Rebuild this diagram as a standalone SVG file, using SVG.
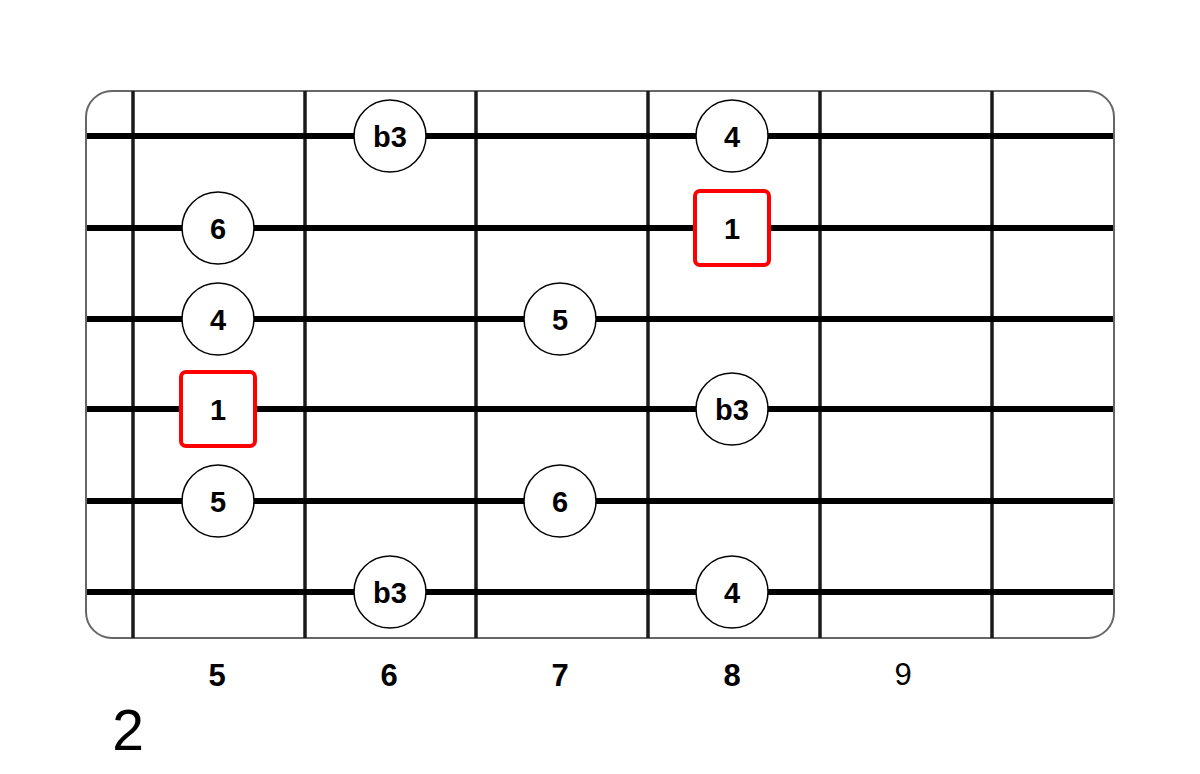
<svg xmlns="http://www.w3.org/2000/svg" width="1200" height="774" viewBox="0 0 1200 774">
<style>
.fret{stroke:#1a1a1a;stroke-width:3.5}
.str{stroke:#000;stroke-width:6}
.note{fill:#fff;stroke:#000;stroke-width:1.5}
.root{fill:#fff;stroke:#f00;stroke-width:4}
.lbl{font-family:"Liberation Sans",Arial,sans-serif;font-weight:bold;font-size:29px;text-anchor:middle;fill:#000}
.fl{font-family:"Liberation Sans",Arial,sans-serif;font-weight:bold;font-size:31px;text-anchor:middle;fill:#000}
.num{font-family:"Liberation Sans",Arial,sans-serif;font-size:31px;text-anchor:middle;fill:#000}
</style>
<rect width="1200" height="774" fill="#fff"/>
<g id="board">
<rect x="86" y="91" width="1028" height="547" rx="26" fill="#fff" stroke="#666" stroke-width="2"/>
</g>
<g id="connectors">
<line class="fret" x1="133" y1="91" x2="133" y2="638"/>
<line class="fret" x1="305" y1="91" x2="305" y2="638"/>
<line class="fret" x1="476" y1="91" x2="476" y2="638"/>
<line class="fret" x1="648" y1="91" x2="648" y2="638"/>
<line class="fret" x1="820" y1="91" x2="820" y2="638"/>
<line class="fret" x1="992" y1="91" x2="992" y2="638"/>
<line class="str" x1="87" y1="136" x2="1113" y2="136"/>
<line class="str" x1="87" y1="228" x2="1113" y2="228"/>
<line class="str" x1="87" y1="319" x2="1113" y2="319"/>
<line class="str" x1="87" y1="409" x2="1113" y2="409"/>
<line class="str" x1="87" y1="501" x2="1113" y2="501"/>
<line class="str" x1="87" y1="592" x2="1113" y2="592"/>
</g>
<g id="n1"><circle class="note" cx="390" cy="136" r="36"/><text class="lbl" x="390" y="147">b3</text></g>
<g id="n2"><circle class="note" cx="732" cy="136" r="36"/><text class="lbl" x="732" y="147">4</text></g>
<g id="n3"><circle class="note" cx="218" cy="228" r="36"/><text class="lbl" x="218" y="239">6</text></g>
<g id="n4"><rect class="root" x="695" y="191" width="74" height="74" rx="5"/><text class="lbl" x="732" y="239">1</text></g>
<g id="n5"><circle class="note" cx="218" cy="319" r="36"/><text class="lbl" x="218" y="330">4</text></g>
<g id="n6"><circle class="note" cx="560" cy="319" r="36"/><text class="lbl" x="560" y="330">5</text></g>
<g id="n7"><rect class="root" x="181" y="372" width="74" height="74" rx="5"/><text class="lbl" x="218" y="420">1</text></g>
<g id="n8"><circle class="note" cx="732" cy="409" r="36"/><text class="lbl" x="732" y="420">b3</text></g>
<g id="n9"><circle class="note" cx="218" cy="501" r="36"/><text class="lbl" x="218" y="512">5</text></g>
<g id="n10"><circle class="note" cx="560" cy="501" r="36"/><text class="lbl" x="560" y="512">6</text></g>
<g id="n11"><circle class="note" cx="390" cy="592" r="36"/><text class="lbl" x="390" y="603">b3</text></g>
<g id="n12"><circle class="note" cx="732" cy="592" r="36"/><text class="lbl" x="732" y="603">4</text></g>
<g id="labels">
<text class="fl" x="217" y="686">5</text>
<text class="fl" x="389" y="686">6</text>
<text class="fl" x="560" y="686">7</text>
<text class="fl" x="732" y="686">8</text>
<text class="num" x="903" y="685">9</text>
<text style="font-family:'Liberation Sans',Arial,sans-serif;font-size:57px;fill:#000;text-anchor:middle" x="128" y="750">2</text>
</g>
</svg>
